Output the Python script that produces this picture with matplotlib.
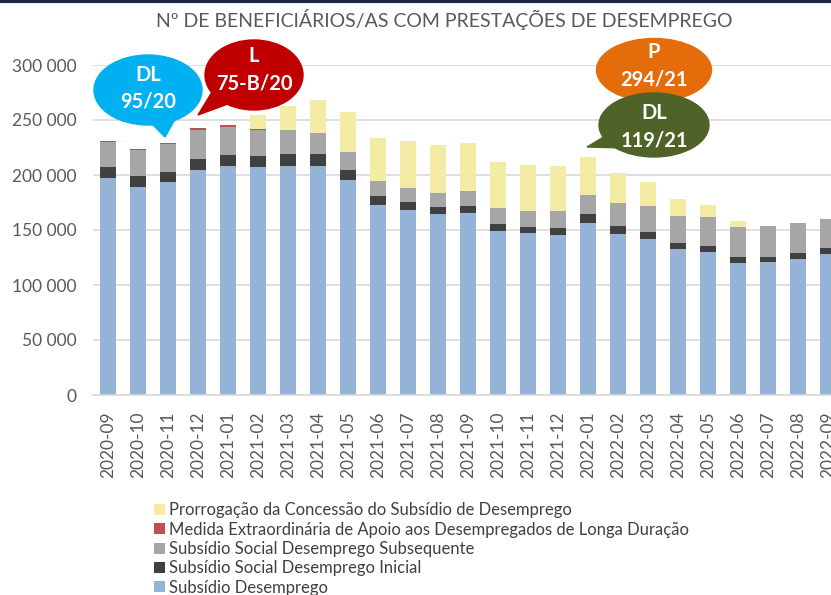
import numpy as np
import matplotlib.pyplot as plt
from matplotlib.patches import Ellipse, Polygon
from matplotlib.ticker import FuncFormatter

plt.rcParams['font.family'] = ['Lato', 'DejaVu Sans']

# Meses
meses = ["2020-09", "2020-10", "2020-11", "2020-12", "2021-01", "2021-02", "2021-03",
         "2021-04", "2021-05", "2021-06", "2021-07", "2021-08", "2021-09", "2021-10",
         "2021-11", "2021-12", "2022-01", "2022-02", "2022-03", "2022-04", "2022-05",
         "2022-06", "2022-07", "2022-08", "2022-09"]

# Séries (nº de beneficiários)
subsidio_desemprego = [197000, 189400, 193600, 204800, 208200, 207000, 208400, 208400, 195400,
                       173000, 168200, 164500, 165200, 149400, 146900, 145200, 156100, 146100,
                       141500, 132400, 129700, 120300, 120900, 123900, 128400]
ssd_inicial = [10500, 10000, 9400, 10000, 10200, 10500, 10400, 10900, 9100,
               7600, 7000, 6700, 6600, 6000, 6100, 6900, 8200, 7500,
               6900, 5800, 5700, 5400, 4800, 5500, 5500]
ssd_subsequente = [22200, 23000, 24900, 26400, 25500, 23400, 21800, 19100, 16700,
                   14200, 13000, 12700, 13400, 14300, 14500, 14900, 17500, 20700,
                   23100, 24800, 26700, 27000, 27600, 26700, 25800]
medida_longa = [1300, 1200, 1200, 1200, 1200, 600, 200, 100, 0,
                0, 0, 0, 0, 0, 0, 0, 0, 0,
                0, 0, 0, 0, 0, 0, 0]
prorrogacao = [0, 0, 0, 0, 0, 13000, 21500, 29500, 36100,
               39100, 42700, 43600, 43600, 42100, 41300, 41200, 34800, 27200,
               22100, 15200, 10900, 5200, 600, 300, 300]

series = [
    ("Subsídio Desemprego", subsidio_desemprego, "#95B3D7"),
    ("Subsídio Social Desemprego Inicial", ssd_inicial, "#404040"),
    ("Subsídio Social Desemprego Subsequente", ssd_subsequente, "#A6A6A6"),
    ("Medida Extraordinária de Apoio aos Desempregados de Longa Duração", medida_longa, "#C0504D"),
    ("Prorrogação da Concessão do Subsídio de Desemprego", prorrogacao, "#F4ECA4"),
]

W, H = 831, 595
fig = plt.figure(figsize=(W / 100, H / 100), dpi=100)
ax = fig.add_axes([93 / W, 200 / H, 738 / W, 330 / H])

x = np.arange(len(meses))
base = np.zeros(len(meses))
handles = []
for nome, vals, cor in series:
    b = ax.bar(x, vals, bottom=base, width=0.54, color=cor, label=nome, zorder=2)
    handles.append(b)
    base += np.array(vals)

ax.set_xlim(-0.5, 24.1)
ax.set_ylim(0, 300000)
ax.set_yticks(np.arange(0, 300001, 50000))
ax.yaxis.set_major_formatter(FuncFormatter(lambda v, p: f"{int(v):,}".replace(",", " ")))
ax.grid(axis="y", color="#D9D9D9", linewidth=1.2, zorder=0)
ax.set_axisbelow(True)
for s in ["top", "right", "left"]:
    ax.spines[s].set_visible(False)
ax.spines["bottom"].set_color("#D9D9D9")
ax.spines["bottom"].set_linewidth(1.2)
ax.tick_params(length=0, colors="#595959", labelsize=12.5)
ax.tick_params(axis="y", pad=12)
ax.tick_params(axis="x", pad=12)
ax.set_xticks(x)
ax.set_xticklabels(meses, rotation=90)

# Título
fig.text(444 / W, 1 - 20 / H, "Nº DE BENEFICIÁRIOS/AS COM PRESTAÇÕES DE DESEMPREGO",
         ha="center", va="center", fontsize=14, color="#595959")

# linha no topo
fig.add_artist(plt.Line2D([0, 1], [1 - 1 / H, 1 - 1 / H], color="#1F2350", lw=3,
                          transform=fig.transFigure))

# Legenda (ordem invertida)
fig.legend(handles[::-1], [s[0] for s in series][::-1], loc="upper left",
           bbox_to_anchor=(146 / W, 1 - 494 / H), frameon=False, fontsize=12,
           handlelength=0.65, handleheight=0.65, handletextpad=0.25,
           labelspacing=0.2, borderpad=0, labelcolor="#404040")


# Balões
def px(xp, yp):
    return (xp / W, 1 - yp / H)


def balao(cx, cy, w, h, cor, tail, linhas, ty):
    e = Ellipse(px(cx, cy), w / W, h / H, transform=fig.transFigure, color=cor, zorder=5)
    fig.add_artist(e)
    if tail is not None:
        (ax1, ay1), (ax2, ay2), tip = tail
        p = Polygon([px(ax1, ay1), px(ax2, ay2), px(*tip)], closed=True,
                    transform=fig.transFigure, color=cor, zorder=5)
        fig.add_artist(p)
    for t, yy in zip(linhas, ty):
        fig.text(*px(cx, yy), t, ha="center", va="center", color="white",
                 fontsize=14.5, fontweight="bold", zorder=6)


balao(148, 90, 108, 70, "#00B0F0", ((148, 120), (178, 114), (165, 137)), ["DL", "95/20"], [75, 101])
balao(254, 75, 98, 70, "#C00000", ((212, 92), (228, 104), (198, 115)), ["L", "75-B/20"], [56, 83])
balao(654, 70, 115, 63, "#E46C0A", None, ["P", "294/21"], [52, 80])
balao(654, 125, 110, 64, "#4F6228", ((612, 132), (625, 148), (587, 147)), ["DL", "119/21"], [113, 140])

fig.savefig("out.png", dpi=100)
